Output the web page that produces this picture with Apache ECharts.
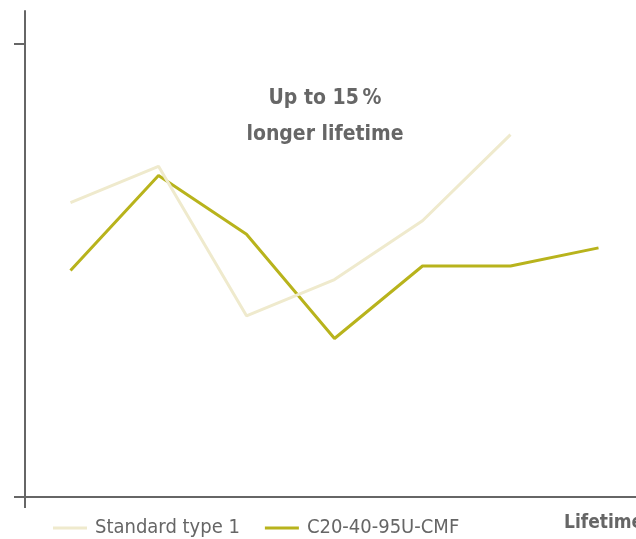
<!DOCTYPE html>
<html>
<head>
<meta charset="utf-8">
<script src="https://cdn.jsdelivr.net/npm/echarts@6/dist/echarts.min.js"></script>
<style>
  html, body { margin: 0; padding: 0; background: #fff; }
  #chart { width: 636px; height: 539px; }
</style>
</head>
<body>
<div id="chart"></div>
<script>
// data (relative units, 100 = top tick)
var categories = ['1', '2', '3', '4', '5', '6', '7']
var standardType = [65, 73, 40, 48, 61, 80, null]
var c20 = [50, 71, 58, 35, 51, 51, 55]
var yTicks = [0, 100]

var font = '"DejaVu Sans Condensed", "Liberation Sans Narrow", sans-serif'
var gray = '#666666'

// x is the category index, so the points sit at their slot
function pairs (values) {
  return categories.map(function (c, i) {
    return [i, values[i]]
  })
}

var myChart = echarts.init(document.getElementById('chart'))

var option = {
  animation: false,
  grid: {
    left: 25,
    top: 11,
    right: 0,
    bottom: 42
  },
  legend: {
    left: 48,
    top: 513,
    itemWidth: 34,
    itemHeight: 3,
    itemGap: 25,
    textStyle: {
      fontFamily: font,
      fontSize: 20,
      color: gray,
      padding: [0, 0, 0, 3]
    },
    data: [
      { name: 'Standard type 1', icon: 'rect' },
      { name: 'C20-40-95U-CMF', icon: 'rect' }
    ]
  },
  xAxis: {
    type: 'value',
    min: -0.517,
    max: 6.426,
    axisLine: { onZero: false, lineStyle: { color: gray, width: 2 } },
    axisTick: {
      show: true,
      length: 11,
      customValues: [-0.517],
      lineStyle: { color: gray, width: 2 }
    },
    axisLabel: { show: false },
    splitLine: { show: false }
  },
  yAxis: {
    type: 'value',
    min: 0,
    max: 107.3,
    axisLine: { show: true, onZero: false, lineStyle: { color: gray, width: 2 } },
    axisTick: {
      show: true,
      length: 11,
      customValues: yTicks,
      lineStyle: { color: gray, width: 2 }
    },
    axisLabel: { show: false },
    splitLine: { show: false }
  },
  graphic: [
    {
      type: 'text',
      x: 325,
      y: 81,
      style: {
        text: 'Up to 15\u2009%\nlonger lifetime',
        textAlign: 'center',
        font: 'bold 21px ' + font,
        fill: gray,
        lineHeight: 36
      }
    },
    {
      type: 'text',
      x: 564,
      y: 514,
      style: {
        text: 'Lifetime',
        font: 'bold 19px ' + font,
        fill: gray
      }
    }
  ],
  series: [
    {
      name: 'C20-40-95U-CMF',
      type: 'line',
      data: pairs(c20),
      symbol: 'none',
      z: 2,
      itemStyle: { color: '#b8b31c' },
      lineStyle: { color: '#b8b31c', width: 3 }
    },
    {
      name: 'Standard type 1',
      type: 'line',
      data: pairs(standardType),
      symbol: 'none',
      z: 3,
      itemStyle: { color: '#efeacd' },
      lineStyle: { color: '#efeacd', width: 3 }
    }
  ]
}

myChart.setOption(option)
</script>
</body>
</html>
